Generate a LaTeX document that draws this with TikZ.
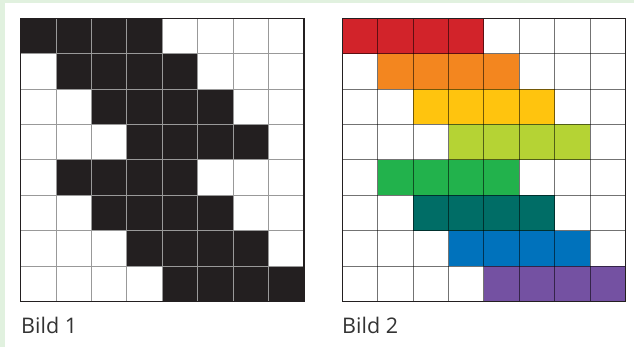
\documentclass[tikz,border=0pt]{standalone}
\usepackage{fontspec}
\setmainfont{Open Sans}
\definecolor{paneltint}{RGB}{225,241,223}
\definecolor{inkblack}{RGB}{35,31,32}
\definecolor{cred}{RGB}{210,35,42}
\definecolor{corange}{RGB}{243,134,31}
\definecolor{cyellow}{RGB}{255,196,14}
\definecolor{clime}{RGB}{181,211,52}
\definecolor{cgreen}{RGB}{34,178,76}
\definecolor{cteal}{RGB}{0,109,102}
\definecolor{cblue}{RGB}{0,114,188}
\definecolor{cpurple}{RGB}{116,81,162}
\usetikzlibrary{positioning}

\begin{document}
\begin{tikzpicture}[x=1pt, y=1pt,
  gridline/.style={line width=1.1pt},
  frame/.style={draw=inkblack, line width=1.3pt},
  caption/.style={font=\fontsize{21.5}{26}\selectfont, text=black!80, inner sep=0pt, anchor=base west},
]
  % background and white panel
  \fill[paneltint] (0,0) rectangle (634,347);
  \fill[white] (5,0) rectangle (634,344);
  \useasboundingbox (0,0) rectangle (634,347);

  % filled cells (row / first column / colour)
  \foreach \r/\c/\col in {0/0/cred, 1/1/corange, 2/2/cyellow, 3/3/clime,
                          4/1/cgreen, 5/2/cteal, 6/3/cblue, 7/4/cpurple} {
    \fill[inkblack] (20.7+\c*35.4, 328.7-\r*35.4) rectangle ++(4*35.4, -35.4);
    \fill[\col] (342.3+\c*35.4, 328.7-\r*35.4) rectangle ++(4*35.4, -35.4);
  }

  % grid lines
  \foreach \i in {1,...,7} {
    \draw[gridline, gray!80] (20.7+\i*35.4, 45.5) -- (20.7+\i*35.4, 328.7);
    \draw[gridline, gray!80] (20.7, 328.7-\i*35.4) -- (304.0, 328.7-\i*35.4);
    \draw[gridline, black, opacity=0.55] (342.3+\i*35.4, 45.5) -- (342.3+\i*35.4, 328.7);
    \draw[gridline, black, opacity=0.55] (342.3, 328.7-\i*35.4) -- (625.5, 328.7-\i*35.4);
  }
  \draw[frame] (20.7,45.5) rectangle (304.0,328.7);
  \draw[frame] (342.3,45.5) rectangle (625.5,328.7);

  % captions
  \node[caption] (bild1) at (21,13) {Bild 1};
  \node[caption] (bild2) at (342,13) {Bild 2};
\end{tikzpicture}
\end{document}
